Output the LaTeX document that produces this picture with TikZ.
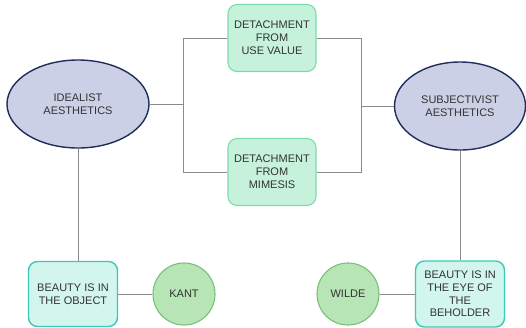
\documentclass[tikz,border=0pt]{standalone}
\usepackage{fontspec}
\setmainfont{Liberation Sans}
\usetikzlibrary{shapes.geometric}

\definecolor{elfill}{HTML}{CBD0E6}
\definecolor{eldraw}{HTML}{1F2E5A}
\definecolor{dtfill}{HTML}{C6F2DC}
\definecolor{dtdraw}{HTML}{7DDCAA}
\definecolor{btfill}{HTML}{D2F5EE}
\definecolor{btdraw}{HTML}{3ACBB4}
\definecolor{ptfill}{HTML}{B8E5B6}
\definecolor{ptdraw}{HTML}{79C07A}
\definecolor{lnk}{HTML}{8A8A8A}
\definecolor{txt}{HTML}{333333}

\begin{document}
\begin{tikzpicture}[x=1pt,y=-1pt,
	every node/.style={font=\fontsize{11}{12.8}\selectfont, text=txt, align=center, inner sep=0pt},
	school/.style={ellipse, draw=eldraw, fill=elfill, line width=1.4pt, minimum width=142pt, minimum height=88pt},
	detach/.style={rectangle, rounded corners=9pt, draw=dtdraw, fill=dtfill, line width=1.1pt, minimum width=88pt, minimum height=67pt},
	thesis/.style={rectangle, rounded corners=9pt, draw=btdraw, fill=btfill, line width=1.4pt, minimum width=89pt, minimum height=65pt},
	thinker/.style={circle, draw=ptdraw, fill=ptfill, line width=1.1pt, minimum size=62pt},
	link/.style={draw=lnk, line width=0.9pt}]

\useasboundingbox (0,0) rectangle (526,327);

% Escuelas
	\node[school] (ideal) at (78,104) {IDEALIST\\AESTHETICS};
	\node[school, minimum width=131pt] (subj) at (460,106) {SUBJECTIVIST\\AESTHETICS};

% Desprendimientos
	\node[detach] (usev) at (272,38) {DETACHMENT\\FROM\\USE VALUE};
	\node[detach] (mim) at (272,172) {DETACHMENT\\FROM\\MIMESIS};

	\coordinate (jl) at (183,104);
	\coordinate (jr) at (361,106);

	\draw[link] (ideal) -- (jl);
	\draw[link] (usev.west) -| (jl);
	\draw[link] (mim.west) -| (jl);
	\draw[link] (usev.east) -| (jr);
	\draw[link] (mim.east) -| (jr);
	\draw[link] (jr) -- (subj);

% Tesis y autores
	\node[thesis] (obj) at (73,294) {BEAUTY IS IN\\THE OBJECT};
	\node[thesis, minimum height=66pt] (eye) at (460,294) {BEAUTY IS IN\\THE EYE OF\\THE\\BEHOLDER};
	\node[thinker] (kant) at (184,294) {KANT};
	\node[thinker] (wilde) at (348,294) {WILDE};

	\draw[link] (ideal.south) -- (ideal.south |- obj.north);
	\draw[link] (subj.south) -- (subj.south |- eye.north);
	\draw[link] (obj) -- (kant);
	\draw[link] (wilde) -- (eye);

\end{tikzpicture}
\end{document}
